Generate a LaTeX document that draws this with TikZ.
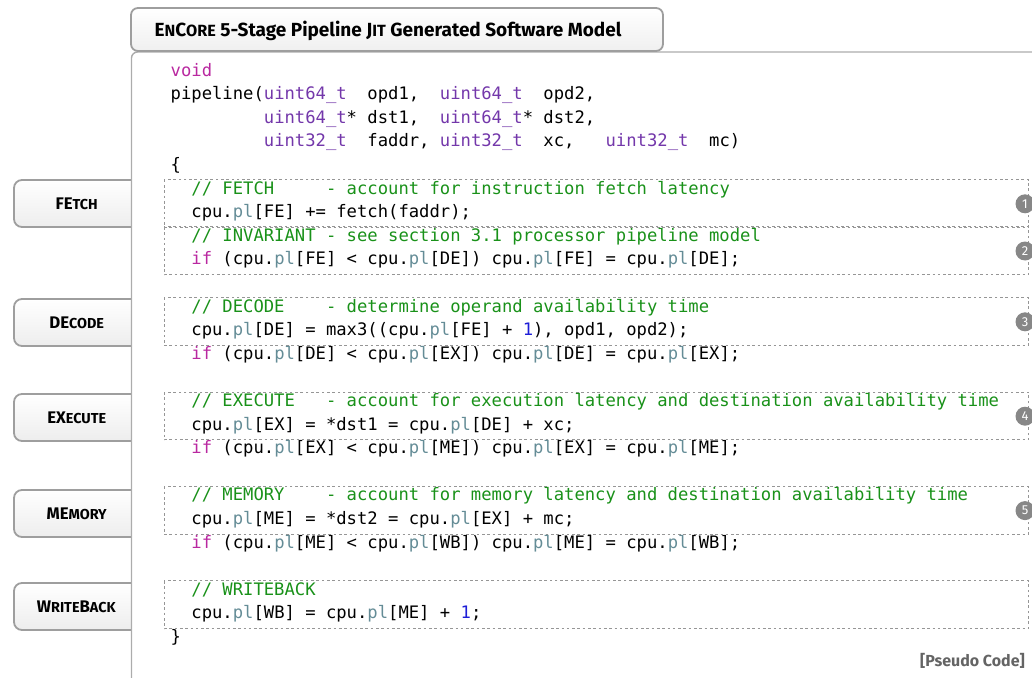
\documentclass[tikz,border=0pt]{standalone}
\usepackage{fontspec}
\setmonofont{DejaVu Sans Mono}
\newfontfamily\labelfont{Fira Sans}

% syntax colours
\definecolor{kwcol}{RGB}{185,40,160}
\definecolor{tycol}{RGB}{115,55,170}
\definecolor{memcol}{RGB}{100,140,150}
\definecolor{numcol}{RGB}{30,30,215}
\definecolor{cmtcol}{RGB}{25,145,25}
% frame colours
\definecolor{edgecol}{RGB}{158,158,158}
\definecolor{framecol}{RGB}{172,172,172}
\definecolor{dashcol}{RGB}{150,150,150}
\definecolor{badgecol}{RGB}{135,135,135}
\definecolor{notecol}{RGB}{100,100,100}

\newcommand\kw[1]{\textcolor{kwcol}{#1}}
\newcommand\ty[1]{\textcolor{tycol}{#1}}
\newcommand\mem{\textcolor{memcol}{pl}}
\newcommand\num[1]{\textcolor{numcol}{#1}}
\newcommand\cmt[1]{\textcolor{cmtcol}{#1}}
\newcommand\cpl{cpu.\mem}
% hand-made small capitals for the labels and the title
\newcommand\lsc[1]{{\fontsize{14.4}{16}\selectfont #1}}
\newcommand\tsc[1]{{\fontsize{16.2}{18}\selectfont #1}}
% vertical position of code row #1
\newcommand\row[1]{74+23.6*#1}

\begin{document}
\begin{tikzpicture}[x=1pt,y=-1pt,
  code/.style={anchor=mid west,inner sep=0pt,
    font=\fontsize{17.2}{20}\selectfont\ttfamily\frenchspacing},
  stagebox/.style={draw=edgecol,line width=1.8pt,rounded corners=8pt,
    top color=white,bottom color=black!7},
  stagelabel/.style={anchor=base,inner sep=0pt,
    font=\labelfont\bfseries\fontsize{16.8}{18}\selectfont},
  titlebox/.style={draw=edgecol,line width=1.8pt,rounded corners=7pt,
    top color=white,bottom color=black!6},
  frameline/.style={draw=framecol,line width=1.4pt,rounded corners=6pt},
  section/.style={draw=dashcol,line width=1pt,dash pattern=on 2.6pt off 2.7pt},
  badge/.style={circle,fill=badgecol,inner sep=0pt,minimum size=19pt,
    text=white,font=\labelfont\fontsize{13}{14}\selectfont},
  note/.style={anchor=base east,inner sep=0pt,text=notecol,
    font=\labelfont\bfseries\fontsize{16}{18}\selectfont}]
\useasboundingbox (0,0) rectangle (1032,677);

% stage tabs on the left
\foreach \c in {203.5,322.5,417.5,513.5,606.5}{
  \path[stagebox] (131,\c-23.5) -- (14,\c-23.5) -- (14,\c+23.5) -- (131,\c+23.5);
}
\node[stagelabel] (fe) at (76.7,209.2) {FE\lsc{TCH}};
\node[stagelabel] (de) at (76.7,328.0) {DE\lsc{CODE}};
\node[stagelabel] (ex) at (76.7,423.2) {EX\lsc{ECUTE}};
\node[stagelabel] (me) at (76.7,519.2) {ME\lsc{MORY}};
\node[stagelabel] (wb) at (76.3,612.2) {W\lsc{RITE}B\lsc{ACK}};

% outer frame of the code panel
\draw[frameline] (131.5,690) -- (131.5,52) -- (1045,52);

% title tab
\path[titlebox] (131,8) rectangle (663,51);
\node[anchor=base,inner sep=0pt,font=\labelfont\bfseries\fontsize{19}{21}\selectfont]
  (title) at (388,37)
  {E\tsc{N}C\tsc{ORE} 5-Stage Pipeline J\tsc{IT} Generated Software Model};

% dotted sections around the stage code
\draw[section] (164,{\row{5}-12.3}) rectangle (1028.5,{\row{6}+11.8});
\draw[section] (164,{\row{7}-12.3}) rectangle (1028.5,{\row{8}+11.8});
\draw[section] (164,{\row{10}-12.3}) rectangle (1028.5,{\row{11}+11.8});
\draw[section] (164,{\row{14}-12.3}) rectangle (1028.5,{\row{15}+11.8});
\draw[section] (164,{\row{18}-12.3}) rectangle (1028.5,{\row{19}+11.8});
\draw[section] (164,{\row{22}-12.3}) rectangle (1028.5,{\row{23}+11.8});

% code listing
\node[code] (l0)  at (170.5,{\row{0}})  {\kw{void}};
\node[code] (l1)  at (170.5,{\row{1}})  {pipeline(\ty{uint64\_t}~~opd1,~~\ty{uint64\_t}~~opd2,};
\node[code] (l2)  at (170.5,{\row{2}})  {~~~~~~~~~\ty{uint64\_t}* dst1,~~\ty{uint64\_t}* dst2,};
\node[code] (l3)  at (170.5,{\row{3}})  {~~~~~~~~~\ty{uint32\_t}~~faddr, \ty{uint32\_t}~~xc,~~~\ty{uint32\_t}~~mc)};
\node[code] (l4)  at (170.5,{\row{4}})  {\{};
\node[code] (l5)  at (170.5,{\row{5}})  {~~\cmt{//~FETCH~~~~~-~account for instruction fetch latency}};
\node[code] (l6)  at (170.5,{\row{6}})  {~~\cpl[FE] += fetch(faddr);};
\node[code] (l7)  at (170.5,{\row{7}})  {~~\cmt{//~INVARIANT~-~see section 3.1 processor pipeline model}};
\node[code] (l8)  at (170.5,{\row{8}})  {~~\kw{if} (\cpl[FE] < \cpl[DE]) \cpl[FE] = \cpl[DE];};
\node[code] (l10) at (170.5,{\row{10}}) {~~\cmt{//~DECODE~~~~-~determine operand availability time}};
\node[code] (l11) at (170.5,{\row{11}}) {~~\cpl[DE] = max3((\cpl[FE] + \num{1}), opd1, opd2);};
\node[code] (l12) at (170.5,{\row{12}}) {~~\kw{if} (\cpl[DE] < \cpl[EX]) \cpl[DE] = \cpl[EX];};
\node[code] (l14) at (170.5,{\row{14}}) {~~\cmt{//~EXECUTE~~~-~account for execution latency and destination availability time}};
\node[code] (l15) at (170.5,{\row{15}}) {~~\cpl[EX] = *dst1 = \cpl[DE] + xc;};
\node[code] (l16) at (170.5,{\row{16}}) {~~\kw{if} (\cpl[EX] < \cpl[ME]) \cpl[EX] = \cpl[ME];};
\node[code] (l18) at (170.5,{\row{18}}) {~~\cmt{//~MEMORY~~~~-~account for memory latency and destination availability time}};
\node[code] (l19) at (170.5,{\row{19}}) {~~\cpl[ME] = *dst2 = \cpl[EX] + mc;};
\node[code] (l20) at (170.5,{\row{20}}) {~~\kw{if} (\cpl[ME] < \cpl[WB]) \cpl[ME] = \cpl[WB];};
\node[code] (l22) at (170.5,{\row{22}}) {~~\cmt{//~WRITEBACK}};
\node[code] (l23) at (170.5,{\row{23}}) {~~\cpl[WB] = \cpl[ME] + \num{1};};
\node[code] (l24) at (170.5,{\row{24}}) {\}};

% numbered badges on the sections
\node[badge] (b1) at (1025,{\row{5.5}}) {1};
\node[badge] (b2) at (1025,{\row{7.5}}) {2};
\node[badge] (b3) at (1025,{\row{10.5}}) {3};
\node[badge] (b4) at (1025,{\row{14.5}}) {4};
\node[badge] (b5) at (1025,{\row{18.5}}) {5};

\node[note] (pc) at (1025,666) {[Pseudo Code]};
\end{tikzpicture}
\end{document}
